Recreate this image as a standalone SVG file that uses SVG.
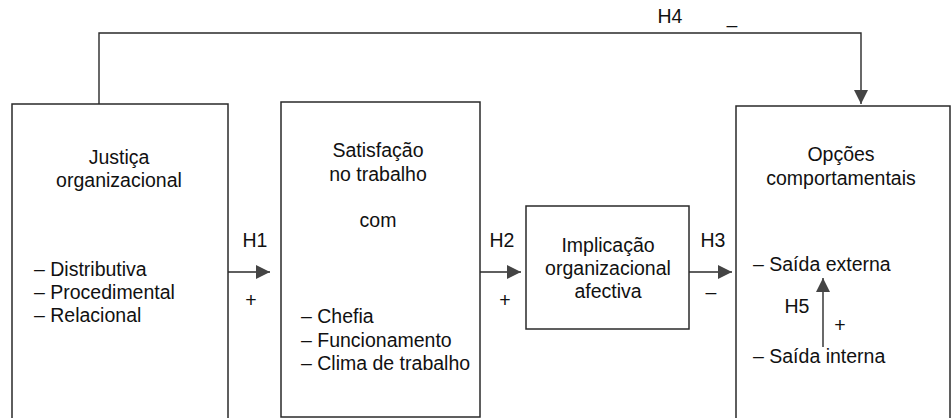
<svg xmlns="http://www.w3.org/2000/svg" width="952" height="418" viewBox="0 0 952 418">
<style>
  .box { fill: #fff; stroke: #2a2a2a; stroke-width: 1.5; }
  .t { font-family: "Liberation Sans", Arial, sans-serif; font-size: 19.5px; fill: #111; }
  .c { text-anchor: middle; }
  .ln { fill: none; stroke: #2a2a2a; stroke-width: 1.4; }
</style>
<defs>
  <marker id="ah" markerUnits="userSpaceOnUse" markerWidth="15" markerHeight="14" refX="14" refY="7" orient="auto">
    <path d="M0,0 L14,7 L0,14 z" fill="#444"/>
  </marker>
</defs>
<rect width="952" height="418" fill="#fff"/>

<g id="justica">
  <rect class="box" x="12" y="104" width="216" height="320"/>
  <text class="t c" x="119" y="164">Justiça</text>
  <text class="t c" x="119" y="187">organizacional</text>
  <text class="t" x="34" y="276">– Distributiva</text>
  <text class="t" x="34" y="299">– Procedimental</text>
  <text class="t" x="34" y="322">– Relacional</text>
</g>

<g id="satisfacao">
  <rect class="box" x="281" y="102" width="199" height="315"/>
  <text class="t c" x="378" y="157">Satisfação</text>
  <text class="t c" x="378" y="181">no trabalho</text>
  <text class="t c" x="378" y="227">com</text>
  <text class="t" x="301" y="323">– Chefia</text>
  <text class="t" x="301" y="347">– Funcionamento</text>
  <text class="t" x="301" y="370">– Clima de trabalho</text>
</g>

<g id="implicacao">
  <rect class="box" x="526" y="206" width="163" height="123"/>
  <text class="t c" x="608" y="252">Implicação</text>
  <text class="t c" x="608" y="275">organizacional</text>
  <text class="t c" x="608" y="298">afectiva</text>
</g>

<g id="opcoes">
  <rect class="box" x="736" y="106" width="214" height="318"/>
  <text class="t c" x="841" y="161">Opções</text>
  <text class="t c" x="841" y="185">comportamentais</text>
  <text class="t" x="753" y="271">– Saída externa</text>
  <text class="t" x="753" y="363">– Saída interna</text>
</g>

<g id="connectors">
  <path class="ln" d="M99,104 V33 H861 V104" marker-end="url(#ah)"/>
  <line class="ln" x1="228" y1="272" x2="270" y2="272" marker-end="url(#ah)"/>
  <line class="ln" x1="480" y1="272" x2="521" y2="272" marker-end="url(#ah)"/>
  <line class="ln" x1="689" y1="272" x2="732" y2="272" marker-end="url(#ah)"/>
  <line class="ln" x1="823" y1="347" x2="823" y2="278" marker-end="url(#ah)"/>
</g>

<g id="labels">
  <text class="t c" x="670" y="23">H4</text>
  <text class="t c" x="732" y="32">–</text>
  <text class="t c" x="255" y="247">H1</text>
  <text class="t c" x="251" y="307">+</text>
  <text class="t c" x="502" y="247">H2</text>
  <text class="t c" x="505" y="307">+</text>
  <text class="t c" x="713" y="247">H3</text>
  <text class="t c" x="711" y="299">–</text>
  <text class="t c" x="797" y="313">H5</text>
  <text class="t c" x="840" y="332">+</text>
</g>
</svg>
